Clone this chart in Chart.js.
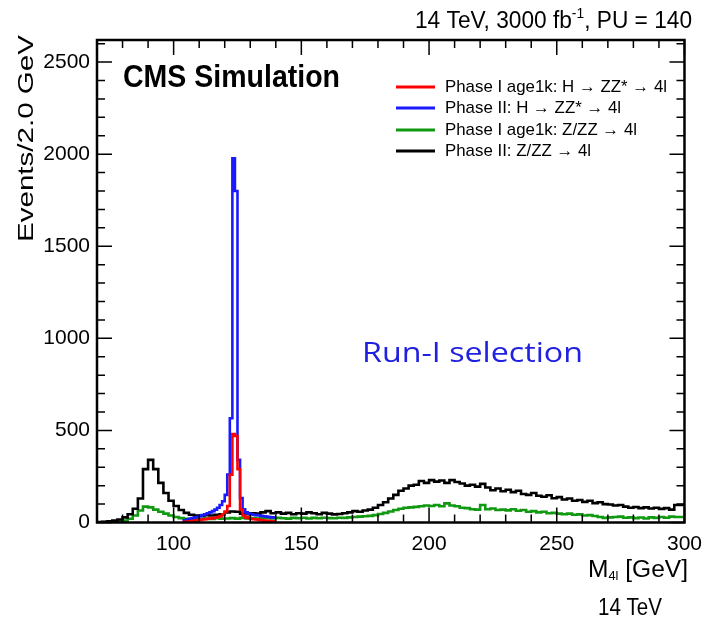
<!DOCTYPE html>
<html><head><meta charset="utf-8">
<script src="https://cdn.jsdelivr.net/npm/chart.js@4.4.1/dist/chart.umd.min.js"></script>
<style>html,body{margin:0;padding:0;background:#fff;}canvas{display:block;}</style>
</head><body>
<canvas id="c" width="711" height="620"></canvas>
<script>
// ---- data ----
const xRange = [70, 300];
const yRange = [0, 2620];
const xTicks = [100, 150, 200, 250, 300];
const yTicks = [0, 500, 1000, 1500, 2000, 2500];

// Z/ZZ samples: 2 GeV bins starting at 70 GeV
const zzStart = 70, zzBin = 2;
const phase2ZZ = [2,3,4,6,10,16,28,45,75,130,290,340,290,215,160,118,90,68,52,42,
  38,36,40,38,42,45,55,60,58,48,45,50,48,55,62,50,55,48,52,45,
  50,48,55,50,45,52,48,44,46,50,55,62,58,65,70,80,95,110,130,150,
  172,185,200,205,225,215,230,222,228,215,230,220,212,200,205,195,210,190,175,185,
  170,178,165,172,155,150,160,145,140,148,132,138,125,130,118,122,112,118,105,110,
  100,98,92,95,86,80,84,78,82,76,80,74,78,70,95];
const phase1ZZ = [1,1,2,3,4,6,10,20,38,65,86,82,70,58,48,38,30,24,20,18,
  18,20,22,19,23,21,22,24,21,25,22,24,21,25,23,22,25,23,21,25,
  23,26,22,25,23,26,24,23,26,25,28,30,32,34,36,40,46,52,60,68,
  75,80,82,85,88,92,90,95,88,104,92,88,80,78,72,70,95,72,76,68,
  70,66,72,64,68,58,62,55,58,50,52,48,45,48,42,44,38,40,35,30,
  25,28,30,32,26,28,24,27,22,28,25,30,26,32,30];

// H -> ZZ* samples: 1 GeV bins starting at 104 GeV
const hStart = 104, hBin = 1;
const phase2H = [8,12,16,20,24,28,30,35,40,45,50,55,62,70,80,95,115,150,260,566,
  1977,1800,340,133,72,55,48,45,42,40,38,36,34,32,30,28];
const phase1H = [3,4,5,6,8,10,12,14,16,18,20,22,24,26,30,35,45,60,90,260,
  480,470,290,70,38,28,24,20,18,16,14,12,10,9,8,7];

const seriesLabels = [
  'Phase I age1k: H \u2192 ZZ* \u2192 4l',
  'Phase II: H \u2192 ZZ* \u2192 4l',
  'Phase I age1k: Z/ZZ \u2192 4l',
  'Phase II: Z/ZZ \u2192 4l'
];
const seriesColors = ['#ff0000', '#1a1aff', '#119911', '#000000'];

function steps(start, width, vals) {
  const pts = vals.map((v, i) => ({x: start + i * width, y: v}));
  pts.push({x: start + vals.length * width, y: vals[vals.length - 1]});
  return pts;
}

const FONT = "'Liberation Sans', Arial, Helvetica, sans-serif";

function fitText(ctx, text, x, y, width) {
  const w = ctx.measureText(text).width;
  ctx.save();
  ctx.translate(x, y);
  ctx.scale(width / w, 1);
  ctx.textAlign = 'left';
  ctx.fillText(text, 0, 0);
  ctx.restore();
}

const decor = {
  id: 'decor',
  afterDraw(chart) {
    const ctx = chart.ctx, a = chart.chartArea;
    const xs = chart.scales.x, ys = chart.scales.y;
    ctx.save();
    ctx.strokeStyle = '#000';
    ctx.fillStyle = '#000';
    // ticks (inside)
    ctx.lineWidth = 1.5;
    ctx.beginPath();
    for (let v = xRange[0]; v <= xRange[1]; v += 10) {
      const px = xs.getPixelForValue(v);
      const len = (v % 50 === 0) ? 15 : 8;
      ctx.moveTo(px, a.bottom); ctx.lineTo(px, a.bottom - len);
      ctx.moveTo(px, a.top); ctx.lineTo(px, a.top + len);
    }
    for (let v = 0; v <= yRange[1]; v += 100) {
      const py = ys.getPixelForValue(v);
      const len = (v % 500 === 0) ? 15 : 8;
      ctx.moveTo(a.left, py); ctx.lineTo(a.left + len, py);
      ctx.moveTo(a.right, py); ctx.lineTo(a.right - len, py);
    }
    ctx.stroke();
    // frame
    ctx.lineWidth = 2.5;
    ctx.strokeRect(a.left, a.top, a.right - a.left, a.bottom - a.top);

    ctx.textBaseline = 'alphabetic';
    // top title with superscript
    ctx.font = '23px ' + FONT;
    const p1 = '14 TeV, 3000 fb', p3 = ', PU = 140';
    const w1 = ctx.measureText(p1).width, w3 = ctx.measureText(p3).width;
    ctx.font = '14px ' + FONT;
    const w2 = ctx.measureText('-1').width;
    const total = w1 + w2 + w3, targetW = 277, sx = targetW / total;
    ctx.save();
    ctx.translate(692 - targetW, 28);
    ctx.scale(sx, 1);
    ctx.font = '23px ' + FONT;
    ctx.fillText(p1, 0, 0);
    ctx.font = '14px ' + FONT;
    ctx.fillText('-1', w1, -10);
    ctx.font = '23px ' + FONT;
    ctx.fillText(p3, w1 + w2, 0);
    ctx.restore();

    // CMS Simulation
    ctx.font = 'bold 32px ' + FONT;
    fitText(ctx, 'CMS Simulation', 123, 86.5, 217);

    // y title
    ctx.save();
    ctx.translate(33, 242);
    ctx.rotate(-Math.PI / 2);
    ctx.font = '22px ' + FONT;
    fitText(ctx, 'Events/2.0 GeV', 0, 0, 207);
    ctx.restore();

    // x title M_4l [GeV]
    ctx.save();
    ctx.font = '23px ' + FONT;
    const wm = ctx.measureText('M').width;
    const wr = ctx.measureText(' [GeV]').width;
    ctx.font = '12px ' + FONT;
    const ws = ctx.measureText('4l').width;
    const tw = wm + ws + wr, target = 100;
    ctx.translate(588, 577);
    ctx.scale(target / tw, 1);
    ctx.font = '23px ' + FONT;
    ctx.fillText('M', 0, 0);
    ctx.font = '12px ' + FONT;
    ctx.fillText('4l', wm, 3);
    ctx.font = '23px ' + FONT;
    ctx.fillText(' [GeV]', wm + ws, 0);
    ctx.restore();

    // 14 TeV bottom
    ctx.font = '23px ' + FONT;
    fitText(ctx, '14 TeV', 598, 615, 64);

    // Run-I selection
    ctx.fillStyle = '#2020e0';
    ctx.font = "28px 'Open Sans', sans-serif";
    fitText(ctx, 'Run-I selection', 362, 362, 221);

    // legend
    ctx.fillStyle = '#000';
    ctx.font = '17px ' + FONT;
    const lsx = 222 / ctx.measureText(seriesLabels[0]).width;
    const rows = [87, 108, 130, 151];
    ctx.textBaseline = 'middle';
    seriesLabels.forEach((lab, i) => {
      ctx.strokeStyle = seriesColors[i];
      ctx.lineWidth = 3;
      ctx.beginPath();
      ctx.moveTo(396, rows[i]); ctx.lineTo(435, rows[i]);
      ctx.stroke();
      ctx.save();
      ctx.translate(445, rows[i]);
      ctx.scale(lsx, 1);
      ctx.fillText(lab, 0, 0);
      ctx.restore();
    });
    ctx.restore();
  }
};

const ds = (label, color, pts) => ({
  label, data: pts, borderColor: color, backgroundColor: color,
  borderWidth: 2.6, stepped: 'after', pointRadius: 0, fill: false
});

new Chart(document.getElementById('c'), {
  type: 'line',
  data: {
    datasets: [
      ds(seriesLabels[0], seriesColors[0], steps(hStart, hBin, phase1H)),
      ds(seriesLabels[1], seriesColors[1], steps(hStart, hBin, phase2H)),
      ds(seriesLabels[3], seriesColors[3], steps(zzStart, zzBin, phase2ZZ)),
      ds(seriesLabels[2], seriesColors[2], steps(zzStart, zzBin, phase1ZZ))
    ]
  },
  options: {
    responsive: false, animation: false, devicePixelRatio: 1,
    layout: {padding: {top: 40, right: 19, left: 0, bottom: 0}},
    plugins: {legend: {display: false}, tooltip: {enabled: false}},
    scales: {
      x: {
        type: 'linear', min: xRange[0], max: xRange[1],
        grid: {display: false, drawTicks: false}, border: {display: false},
        afterBuildTicks: s => { s.ticks = xTicks.map(v => ({value: v})); },
        afterFit: s => { s.height = 97.5; },
        ticks: {font: {family: FONT, size: 21}, color: '#000', padding: 9,
                maxRotation: 0, autoSkip: false, callback: v => String(v)}
      },
      y: {
        type: 'linear', min: yRange[0], max: yRange[1],
        grid: {display: false, drawTicks: false}, border: {display: false},
        afterBuildTicks: s => { s.ticks = yTicks.map(v => ({value: v})); },
        afterFit: s => { s.width = 97; },
        ticks: {font: {family: FONT, size: 21}, color: '#000', padding: 7,
                autoSkip: false, callback: v => String(v)}
      }
    }
  },
  plugins: [decor]
});
</script>
</body></html>
